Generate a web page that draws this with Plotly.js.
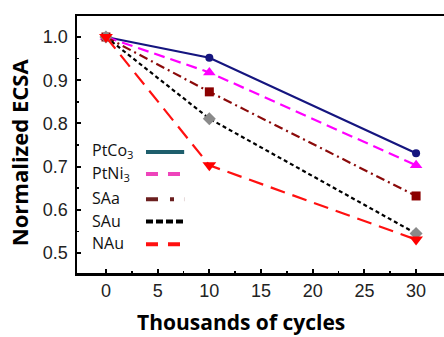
<!DOCTYPE html>
<html>
<head>
<meta charset="utf-8">
<script src="https://cdn.plot.ly/plotly-3.0.1.min.js"></script>
<style>html,body{margin:0;padding:0;background:#fff;}#chart{width:444px;height:337px;}</style>
</head>
<body>
<div id="chart"></div>
<script>
const cycles = [0, 10, 30];
const ptco3 = [1.0, 0.952, 0.731];
const ptni3 = [1.0, 0.918, 0.703];
const saa   = [1.0, 0.873, 0.632];
const sau   = [1.0, 0.811, 0.545];
const nau   = [1.0, 0.703, 0.531];
const seriesNames = ['PtCo<sub>3</sub>', 'PtNi<sub>3</sub>', 'SAa', 'SAu', 'NAu'];
const xTitle = 'Thousands of cycles';
const yTitle = 'Normalized ECSA';

const styles = [
  {y: ptco3, color: '#15157f', dash: 'solid', sym: 'circle', mcol: '#15157f', size: 8},
  {y: ptni3, color: '#ff00ff', dash: '11px,6px', sym: 'triangle-up', mcol: '#ff00ff', size: 11},
  {y: saa,   color: '#8b0a0a', dash: '9px,4px,2px,4px', sym: 'square', mcol: '#8b0000', size: 9},
  {y: sau,   color: '#000000', dash: '4px,3px', sym: 'diamond', mcol: '#8a8a8a', size: 10},
  {y: nau,   color: '#ff1010', dash: '15px,8px', sym: 'triangle-down', mcol: '#ff0000', size: 12}
];

const traces = styles.map((s, i) => ({
  x: cycles, y: s.y, type: 'scatter', mode: 'lines+markers',
  name: seriesNames[i], showlegend: false,
  line: {color: s.color, width: 2.2, dash: s.dash},
  marker: {symbol: s.sym, color: s.mcol, size: s.size}
}));

// manual legend (text left, sample right)
const legColors = ['#1e5e6c', '#ee44bb', '#6b1f1f', '#000000', '#ff1010'];
const rowY = [0.471, 0.385, 0.287, 0.2, 0.112];
const annotations = seriesNames.map((n, i) => ({
  xref: 'paper', yref: 'paper', x: 0.036, y: rowY[i] + 0.004, xanchor: 'left', yanchor: 'middle',
  text: n, showarrow: false, font: {family: 'Open Sans, sans-serif', size: 16, color: '#111'}
}));
const titleFont = {family: 'Open Sans, sans-serif', size: 21, weight: 'bold', color: '#000'};
annotations.push({xref: 'paper', yref: 'paper', x: 0.447, y: -0.19, xanchor: 'center', yanchor: 'middle',
  text: xTitle, showarrow: false, font: titleFont});
annotations.push({xref: 'paper', yref: 'paper', x: -0.158, y: 0.47, xanchor: 'center', yanchor: 'middle',
  text: yTitle, textangle: -90, showarrow: false, font: {family: 'Open Sans, sans-serif', size: 22, weight: 'bold', color: '#000'}});

const shapeDash = ['solid', '12px,10px', '12px,12px,4px,10px', '7px,3px', '12px,10px'];
const shapes = seriesNames.map((n, i) => ({
  type: 'line', xref: 'paper', yref: 'paper', x0: 0.188, x1: 0.292, y0: rowY[i], y1: rowY[i],
  line: {color: legColors[i], width: 4, dash: shapeDash[i]}
}));

const layout = {
  width: 444, height: 337,
  margin: {l: 77, r: 0, t: 16, b: 64},
  paper_bgcolor: '#fff', plot_bgcolor: '#fff',
  font: {family: 'Liberation Sans, Arial, sans-serif', size: 18, color: '#222'},
  xaxis: {
    range: [-2.8, 32.7], tickvals: [0, 5, 10, 15, 20, 25, 30],
    showgrid: false, zeroline: false, showline: true, linecolor: '#000', linewidth: 2.5, mirror: true,
    ticks: 'inside', ticklen: 4, tickwidth: 2, tickcolor: '#000',
    minor: {tickvals: [2.5, 7.5, 12.5, 17.5, 22.5, 27.5], ticks: 'inside', ticklen: 2, tickwidth: 1.5, tickcolor: '#000'},
    ticklabelstandoff: 0
  },
  yaxis: {
    range: [0.4537, 1.0486], tickvals: [0.5, 0.6, 0.7, 0.8, 0.9, 1.0], ticktext: ['0.5','0.6','0.7','0.8','0.9','1.0'],
    showgrid: false, zeroline: false, showline: true, linecolor: '#000', linewidth: 2.5,
    ticks: 'inside', ticklen: 4, tickwidth: 2, tickcolor: '#000',
    minor: {tickvals: [0.55, 0.65, 0.75, 0.85, 0.95], ticks: 'inside', ticklen: 2, tickwidth: 1.5, tickcolor: '#000'},
    ticklabelstandoff: 3
  },
  annotations: annotations,
  shapes: shapes
};

Plotly.newPlot('chart', traces, layout, {staticPlot: true, displayModeBar: false});
</script>
</body>
</html>
